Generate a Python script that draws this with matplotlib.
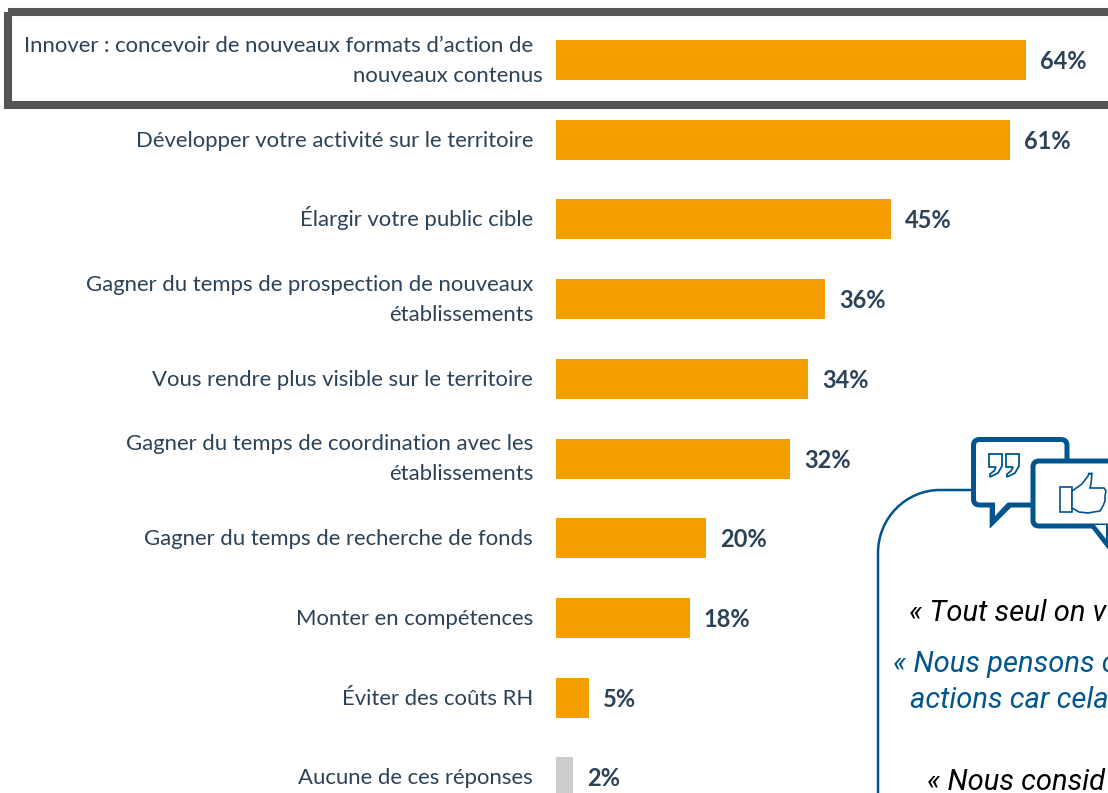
import matplotlib
matplotlib.use("Agg")
import matplotlib.pyplot as plt
from matplotlib.patches import FancyBboxPatch, Polygon, Rectangle
from matplotlib.path import Path
from matplotlib.patches import PathPatch

categories = [
    "Innover : concevoir de nouveaux formats d\u2019action de\nnouveaux contenus",
    "Développer votre activité sur le territoire",
    "Élargir votre public cible",
    "Gagner du temps de prospection de nouveaux\nétablissements",
    "Vous rendre plus visible sur le territoire",
    "Gagner du temps de coordination avec les\nétablissements",
    "Gagner du temps de recherche de fonds",
    "Monter en compétences",
    "Éviter des coûts RH",
    "Aucune de ces réponses",
]
values = [63.3, 61.1, 45.1, 36.2, 33.9, 31.5, 20.2, 18.0, 4.5, 2.3]
value_labels = ["64%", "61%", "45%", "36%", "34%", "32%", "20%", "18%", "5%", "2%"]

ORANGE = "#F59E00"
GREY = "#CCCCCC"
NAVY = "#2B4257"
BLUE = "#00558F"
W, H = 1108, 793

plt.rcParams['font.family'] = ['Lato', 'DejaVu Sans']

fig = plt.figure(figsize=(W / 100, H / 100), dpi=100, facecolor="white")

# calque en pixels pour le cadre et les bulles
deco = fig.add_axes([0, 0, 1, 1])
deco.set_xlim(0, W)
deco.set_ylim(H, 0)
deco.axis("off")

# cadre du premier item
deco.add_patch(Rectangle((7.5, 12), W, 92.5, fill=False, ec="#555555", lw=5.8))

# panneau des verbatims
panel = Path(
    [(878, 800), (878, 553), (878, 518), (906, 490), (940, 490), (985, 490)],
    [Path.MOVETO, Path.LINETO, Path.CURVE4, Path.CURVE4, Path.CURVE4, Path.LINETO],
)
deco.add_patch(PathPatch(panel, fill=False, ec=BLUE, lw=1.8))


def bubble(x0, y0, x1, y1, tail):
    deco.add_patch(Polygon(tail, closed=True, fc=BLUE, ec=BLUE, lw=0.5, zorder=3))
    deco.add_patch(FancyBboxPatch(
        (x0 + 6, y0 + 6), x1 - x0 - 12, y1 - y0 - 12,
        boxstyle="round,pad=3,rounding_size=6",
        fc="white", ec=BLUE, lw=3.6, zorder=4))


bubble(970.5, 436.5, 1070, 508, [(990, 500), (990, 528), (1014, 504)])
deco.add_patch(Polygon([(995, 502), (995, 516), (1008, 502)], closed=True, fc="white", ec="none", zorder=5))
bubble(1030, 458, 1140, 529, [(1088, 523), (1108, 549), (1108, 523)])
deco.add_patch(Polygon([(1095, 525), (1106, 539), (1106, 525)], closed=True, fc="white", ec="none", zorder=5))

# guillemets
for gx in (989, 1006):
    quote_mark = [(gx, 454), (gx + 13, 454), (gx + 13, 466), (gx + 9, 473), (gx + 1, 477),
                  (gx + 1, 474), (gx + 5, 471), (gx + 7, 467), (gx, 467)]
    deco.add_patch(Polygon(quote_mark, closed=True, fc="white", ec=BLUE, lw=1.3, zorder=6))

# pouce
deco.add_patch(Rectangle((1059.5, 487), 12, 24.5, fc="white", ec=BLUE, lw=1.2, zorder=6))
thumb = [(1072, 491), (1082, 484), (1088, 476), (1089, 473), (1090, 474), (1092, 473),
         (1091, 484), (1090, 488), (1104, 488), (1106, 491), (1105, 496), (1105, 501),
         (1103, 506), (1100, 511), (1088, 513), (1079, 512), (1072, 508)]
deco.add_patch(Polygon(thumb, closed=True, fc="white", ec=BLUE, lw=1.2, zorder=6))

# verbatims, coupés par le bord comme sur l'original
quote_lines = [
    (909, 621, "« Tout seul on v", "black"),
    (893, 672, "« Nous pensons c", BLUE),
    (910, 708, "actions car cela", BLUE),
    (927, 790, "« Nous consid", "black"),
]
for qx, qy, qtext, qcolor in quote_lines:
    deco.text(qx, qy, qtext, family="Roboto", style="italic", fontsize=21,
              color=qcolor, ha="left", va="baseline")

# barres
px_per_pct = 7.43
x0_px = 556
ax = fig.add_axes([x0_px / W, 0, (W - x0_px) / W, 1])
ax.patch.set_alpha(0)
ax.set_xlim(0, (W - x0_px) / px_per_pct)
step = 79.7
y0_px = 60
ax.set_ylim((H - y0_px) / step, -y0_px / step)
ax.axis("off")

ypos = list(range(len(categories)))
colors = [ORANGE] * 9 + [GREY]
ax.barh(ypos, values, height=40 / step, color=colors)

for y, v, lab in zip(ypos, values, value_labels):
    ax.annotate(lab, (v, y), xytext=(10, -6.5), textcoords="offset points",
                ha="left", va="baseline", fontsize=17, fontweight="bold", color=NAVY)

for y, cat in zip(ypos, categories):
    lines = cat.split("\n")
    for i, line in enumerate(lines):
        # le premier item déborde un peu à droite sur sa seconde ligne
        dx = -16.5
        if y == 0 and i == 1:
            dx = -9.5
        dy = 0 if len(lines) == 1 else (10.8 if i == 0 else -10.8)
        ax.annotate(line, (0, y), xytext=(dx, dy - 5), textcoords="offset points",
                    ha="right", va="baseline", fontsize=15.9, color=NAVY)

fig.savefig("out.png", dpi=100)
